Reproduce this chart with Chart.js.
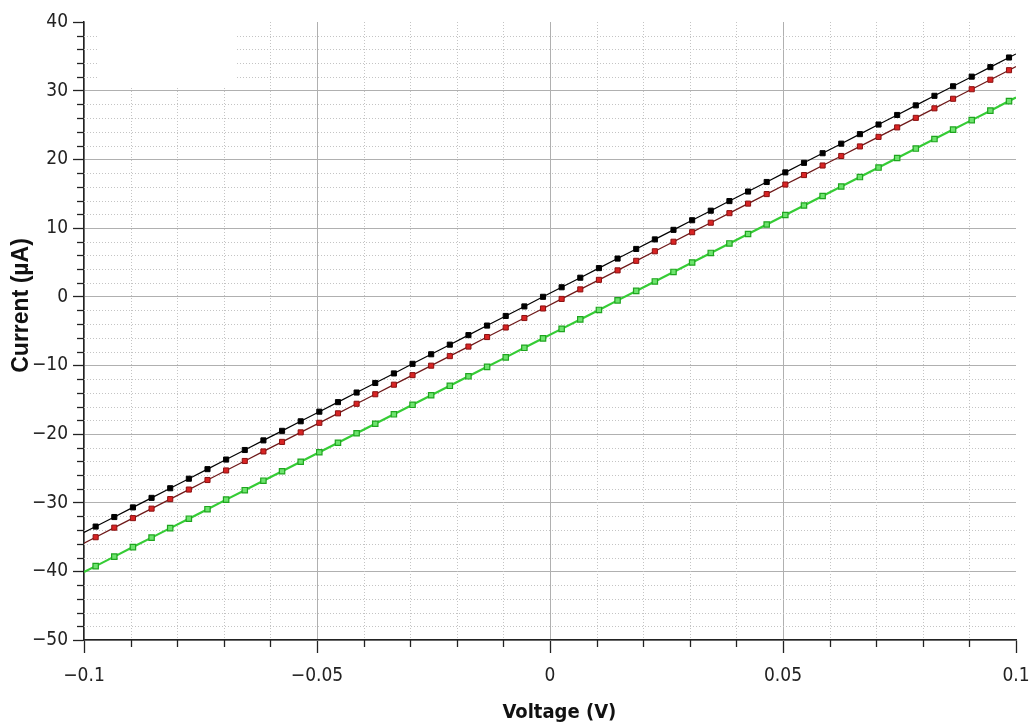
<!DOCTYPE html>
<html>
<head>
<meta charset="utf-8">
<title>I-V sweep</title>
<script src="https://cdn.jsdelivr.net/npm/chart.js@4.4.1/dist/chart.umd.min.js"></script>
<style>
  html, body { margin: 0; padding: 0; background: #fff; }
  #wrap { position: relative; width: 1030px; height: 727px; }
</style>
</head>
<body>
<div id="wrap"><canvas id="ivChart"></canvas></div>
<script>
// Sweep points where markers were recorded (V)
const voltages = [
    -0.0975, -0.0935, -0.0895, -0.0855, -0.0815, -0.0775, -0.0735, -0.0695, -0.0655, -0.0615,
    -0.0575, -0.0535, -0.0495, -0.0455, -0.0415, -0.0375, -0.0335, -0.0295, -0.0255, -0.0215,
    -0.0175, -0.0135, -0.0095, -0.0055, -0.0015, 0.0025, 0.0065, 0.0105, 0.0145, 0.0185,
    0.0225, 0.0265, 0.0305, 0.0345, 0.0385, 0.0425, 0.0465, 0.0505, 0.0545, 0.0585,
    0.0625, 0.0665, 0.0705, 0.0745, 0.0785, 0.0825, 0.0865, 0.0905, 0.0945, 0.0985
];

// Currents in uA
const currentBlack = [
    -33.48, -32.09, -30.69, -29.30, -27.90, -26.51, -25.12, -23.72, -22.33, -20.93,
    -19.54, -18.15, -16.75, -15.36, -13.96, -12.57, -11.18, -9.78, -8.39, -6.99,
    -5.60, -4.21, -2.81, -1.42, -0.02, 1.37, 2.76, 4.16, 5.55, 6.95,
    8.34, 9.73, 11.13, 12.52, 13.92, 15.31, 16.70, 18.10, 19.49, 20.89,
    22.28, 23.67, 25.07, 26.46, 27.86, 29.25, 30.64, 32.04, 33.43, 34.83
];
const currentRed = [
    -35.03, -33.64, -32.25, -30.87, -29.48, -28.09, -26.70, -25.31, -23.93, -22.54,
    -21.15, -19.76, -18.37, -16.99, -15.60, -14.21, -12.82, -11.43, -10.05, -8.66,
    -7.27, -5.88, -4.49, -3.11, -1.72, -0.33, 1.06, 2.45, 3.83, 5.22,
    6.61, 8.00, 9.39, 10.77, 12.16, 13.55, 14.94, 16.33, 17.71, 19.10,
    20.49, 21.88, 23.27, 24.65, 26.04, 27.43, 28.82, 30.21, 31.59, 32.98
];
const currentGreen = [
    -39.24, -37.86, -36.47, -35.09, -33.71, -32.33, -30.95, -29.56, -28.18, -26.80,
    -25.42, -24.04, -22.66, -21.27, -19.89, -18.51, -17.13, -15.75, -14.36, -12.98,
    -11.60, -10.22, -8.84, -7.45, -6.07, -4.69, -3.31, -1.93, -0.54, 0.84,
    2.22, 3.60, 4.98, 6.37, 7.75, 9.13, 10.51, 11.89, 13.28, 14.66,
    16.04, 17.42, 18.80, 20.19, 21.57, 22.95, 24.33, 25.71, 27.09, 28.48
];

// The fitted lines run on to the edges of the sweep
const sweepEnds = [-0.1, 0.1];
const endsBlack = [-34.35, 35.35];
const endsRed = [-35.9, 33.5];
const endsGreen = [-40.1, 29.0];

const xTicks = [-0.1, -0.05, 0, 0.05, 0.1];
const yTicks = [-50, -40, -30, -20, -10, 0, 10, 20, 30, 40];

function buildSeries(values, ends) {
    const pts = [{ x: sweepEnds[0], y: ends[0] }];
    voltages.forEach((v, i) => pts.push({ x: v, y: values[i] }));
    pts.push({ x: sweepEnds[1], y: ends[1] });
    return pts;
}

// no marker on the extrapolated end points
const markerRadius = r => ctx => (ctx.dataIndex === 0 || ctx.dataIndex === voltages.length + 1) ? 0 : r;

function fmt(v) {
    const s = String(Number(v.toFixed(2)));
    return s.replace('-', '\u2212');
}

// dotted minor grid + short minor ticks, and the blank patch top-left
const minorGrid = {
    id: 'minorGrid',
    beforeDatasetsDraw(chart) {
        const { ctx, chartArea: a, scales: { x, y } } = chart;
        ctx.save();
        ctx.strokeStyle = '#c4c4c4';
        ctx.lineWidth = 1;
        ctx.setLineDash([1, 2]);
        for (let i = -9; i <= 9; i++) {
            if (i % 5 === 0) continue;
            const px = Math.round(x.getPixelForValue(i / 100)) + 0.5;
            ctx.beginPath(); ctx.moveTo(px, a.top); ctx.lineTo(px, a.bottom); ctx.stroke();
        }
        for (let v = -48; v < 40; v += 2) {
            if (v % 10 === 0) continue;
            const py = Math.round(y.getPixelForValue(v)) + 0.5;
            ctx.beginPath(); ctx.moveTo(a.left, py); ctx.lineTo(a.right, py); ctx.stroke();
        }
        ctx.setLineDash([]);

        // legend box was cleared out of this corner
        const bx0 = x.getPixelForValue(-0.097), bx1 = x.getPixelForValue(-0.0675);
        const by0 = a.top, by1 = y.getPixelForValue(30.4);
        ctx.fillStyle = '#fff';
        ctx.fillRect(bx0, by0, bx1 - bx0, by1 - by0);

        // minor tick marks outside the axes
        ctx.strokeStyle = '#222';
        ctx.lineWidth = 1.3;
        for (let i = -9; i <= 9; i++) {
            if (i % 5 === 0) continue;
            const px = Math.round(x.getPixelForValue(i / 100)) + 0.5;
            ctx.beginPath(); ctx.moveTo(px, a.bottom); ctx.lineTo(px, a.bottom + 7); ctx.stroke();
        }
        for (let v = -48; v < 40; v += 2) {
            if (v % 10 === 0) continue;
            const py = Math.round(y.getPixelForValue(v)) + 0.5;
            ctx.beginPath(); ctx.moveTo(a.left - 7, py); ctx.lineTo(a.left, py); ctx.stroke();
        }
        ctx.restore();
    }
};

const tickFont = { family: "'DejaVu Sans Condensed', 'DejaVu Sans', sans-serif", size: 19 };

new Chart(document.getElementById('ivChart'), {
    type: 'scatter',
    data: {
        datasets: [
            {
                data: buildSeries(currentBlack, endsBlack),
                showLine: true,
                borderColor: '#000',
                borderWidth: 1.2,
                pointStyle: 'rect',
                pointRadius: markerRadius(3.6),
                pointBackgroundColor: '#000',
                pointBorderColor: '#000',
                pointBorderWidth: 1
            },
            {
                data: buildSeries(currentRed, endsRed),
                showLine: true,
                borderColor: '#6e1818',
                borderWidth: 1.3,
                pointStyle: 'rect',
                pointRadius: markerRadius(3.6),
                pointBackgroundColor: '#d82424',
                pointBorderColor: '#8a1010',
                pointBorderWidth: 1
            },
            {
                data: buildSeries(currentGreen, endsGreen),
                showLine: true,
                borderColor: '#35cc35',
                borderWidth: 2.2,
                pointStyle: 'rect',
                pointRadius: markerRadius(3.8),
                pointBackgroundColor: '#6ee46e',
                pointBorderColor: '#1fa51f',
                pointBorderWidth: 1.2
            }
        ]
    },
    options: {
        responsive: true,
        maintainAspectRatio: false,
        animation: false,
        layout: { padding: { top: 22, right: 14, left: 0, bottom: 0 } },
        plugins: { legend: { display: false }, tooltip: { enabled: false } },
        scales: {
            x: {
                type: 'linear',
                min: -0.1,
                max: 0.1,
                afterBuildTicks: s => { s.ticks = xTicks.map(v => ({ value: v })); },
                afterFit: s => { s.height = 87; s.paddingLeft = 0; s.paddingRight = 0; },
                ticks: { font: tickFont, color: '#222', padding: 12, maxRotation: 0, callback: v => fmt(v) },
                grid: {
                    color: c => (c.tick && c.tick.value >= 0.1) ? 'rgba(0,0,0,0)' : '#b0b0b0',
                    lineWidth: 1,
                    tickLength: 13,
                    tickColor: '#222',
                    tickWidth: 1.3
                },
                border: { color: '#222', width: 1.5 },
                title: {
                    display: true,
                    text: '   Voltage (V)',
                    color: '#111',
                    font: { family: "'DejaVu Sans Condensed', 'DejaVu Sans', sans-serif", size: 20, weight: 'bold' },
                    padding: { top: 0, bottom: 2 }
                }
            },
            y: {
                type: 'linear',
                min: -50,
                max: 40,
                afterBuildTicks: s => { s.ticks = yTicks.map(v => ({ value: v })); },
                afterFit: s => { s.width = 84; },
                ticks: { font: tickFont, color: '#222', padding: 5, callback: v => fmt(v) },
                grid: {
                    color: c => (c.tick && c.tick.value >= 40) ? 'rgba(0,0,0,0)' : '#b0b0b0',
                    lineWidth: 1,
                    tickLength: 11,
                    tickColor: '#222',
                    tickWidth: 1.3
                },
                border: { color: '#222', width: 1.5 },
                title: {
                    display: true,
                    // leading spaces lift the label a little above the axis middle
                    text: '        Current (\u00b5A)',
                    color: '#111',
                    font: { family: "'Liberation Sans', Arial, sans-serif", size: 23, weight: 'bold' },
                    padding: { top: 8, bottom: 0 }
                }
            }
        }
    },
    plugins: [minorGrid]
});
</script>
</body>
</html>
